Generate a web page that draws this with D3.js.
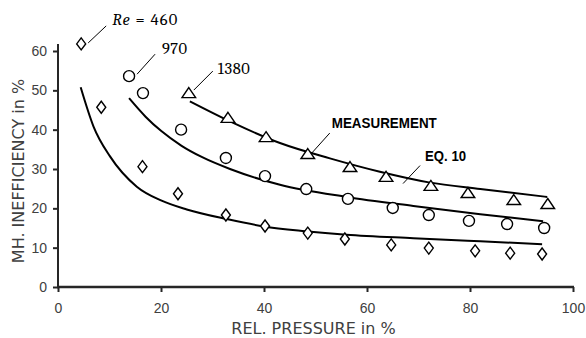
<!DOCTYPE html>
<html>
<head>
<meta charset="utf-8">
<script src="https://cdn.jsdelivr.net/npm/d3@7"></script>
<style>
  html, body { margin: 0; padding: 0; background: #fff; }
  svg { display: block; }
</style>
</head>
<body>
<div id="chart"></div>
<script>
const press460 = [4.5, 8.4, 16.4, 23.3, 32.6, 40.2, 48.5, 55.7, 64.7, 72, 81, 87.8, 94];
const meas460 = [61.8, 45.7, 30.6, 23.7, 18.3, 15.5, 13.7, 12.2, 10.7, 9.9, 9.2, 8.6, 8.4];
const press970 = [13.8, 16.5, 23.9, 32.6, 40.2, 48.2, 56.3, 65, 72, 79.8, 87.2, 94.4];
const meas970 = [53.6, 49.3, 40, 32.8, 28.2, 24.9, 22.4, 20.1, 18.3, 16.8, 16, 15];
const press1380 = [25.4, 33, 40.4, 48.5, 56.7, 63.7, 72.4, 79.6, 88.5, 95.1];
const meas1380 = [49.3, 43, 38.1, 33.8, 30.5, 28, 25.7, 23.9, 22.1, 21.1];

// eq. 10 curves
const eqX460 = [4.4, 6.9, 10.1, 15.3, 20, 25, 33, 40, 48, 56, 69, 82, 94];
const eqY460 = [50.8, 40.8, 33.2, 25.5, 22, 19.7, 17.2, 15.4, 14.2, 13.3, 12.4, 11.6, 10.9];
const eqX970 = [13.8, 17, 20, 24, 28, 33.4, 43.1, 56, 69, 82, 94.2];
const eqY970 = [48.0, 43.3, 39.7, 35.9, 33.0, 30.0, 26.0, 22.9, 20.6, 18.5, 16.7];
const eqX1380 = [25.6, 33.4, 43.1, 52.8, 62.5, 72, 82, 95];
const eqY1380 = [47.2, 42.1, 36.6, 32.7, 29.3, 26.6, 24.9, 22.9];

const xTicks = [0, 20, 40, 60, 80, 100];
const yTicks = [0, 10, 20, 30, 40, 50, 60];

const width = 586, height = 338;
const margin = { left: 58, right: 13, top: 51, bottom: 51 };

const svg = d3.select("#chart").append("svg")
    .attr("width", width)
    .attr("height", height);

const x = d3.scaleLinear().domain([0, 100]).range([margin.left, width - margin.right]);
const y = d3.scaleLinear().domain([0, 60]).range([height - margin.bottom, margin.top]);

const axisColor = "#262626";
const textColor = "#404040";

// y axis
const yAxis = svg.append("g")
    .attr("transform", `translate(${x(0)},0)`)
    .call(d3.axisLeft(y).tickValues(yTicks).tickSize(5).tickPadding(6));
yAxis.select(".domain").remove();
yAxis.selectAll("line").attr("stroke", axisColor).attr("stroke-width", 2);
yAxis.selectAll("text")
    .attr("fill", textColor)
    .style("font-family", "'Liberation Sans', Arial, sans-serif")
    .style("font-size", "14px");
svg.append("line")
    .attr("x1", x(0)).attr("x2", x(0))
    .attr("y1", y(0)).attr("y2", y(60) - 7)
    .attr("stroke", axisColor).attr("stroke-width", 2);

// x axis
const xAxis = svg.append("g")
    .attr("transform", `translate(0,${y(0)})`)
    .call(d3.axisBottom(x).tickValues(xTicks).tickSize(5).tickPadding(11));
xAxis.select(".domain").remove();
xAxis.selectAll("line").attr("stroke", axisColor).attr("stroke-width", 2);
xAxis.selectAll("text")
    .attr("fill", textColor)
    .style("font-family", "'Liberation Sans', Arial, sans-serif")
    .style("font-size", "14px");
svg.append("line")
    .attr("x1", x(0) - 1).attr("x2", x(100) + 1)
    .attr("y1", y(0)).attr("y2", y(0))
    .attr("stroke", axisColor).attr("stroke-width", 2.5);

// axis titles
svg.append("text")
    .attr("x", (x(0) + x(100)) / 2 - 2)
    .attr("y", 334)
    .attr("text-anchor", "middle")
    .attr("fill", textColor)
    .style("font-family", "'DejaVu Sans', Verdana, sans-serif")
    .style("font-size", "16px")
    .text("REL. PRESSURE in %");

svg.append("text")
    .attr("transform", "translate(24,171) rotate(-90)")
    .attr("text-anchor", "middle")
    .attr("fill", textColor)
    .style("font-family", "'DejaVu Sans', Verdana, sans-serif")
    .style("font-size", "16px")
    .text("MH. INEFFICIENCY in %");

// eq. 10 curves
const line = d3.line()
    .x(d => x(d[0]))
    .y(d => y(d[1]))
    .curve(d3.curveMonotoneX);

const curves = [
    d3.zip(eqX460, eqY460),
    d3.zip(eqX970, eqY970),
    d3.zip(eqX1380, eqY1380)
];

svg.append("g")
    .selectAll("path")
    .data(curves)
    .join("path")
    .attr("d", line)
    .attr("fill", "none")
    .attr("stroke", "#000")
    .attr("stroke-width", 2);

// markers
const diamond = "M0,-6L4.5,0L0,6L-4.5,0Z";
const triangle = "M0,-5.5L6.8,4.5L-6.8,4.5Z";

const markStyle = g => g
    .attr("fill", "#fff")
    .attr("stroke", "#000")
    .attr("stroke-width", 1.4);

svg.append("g")
    .call(markStyle)
    .selectAll("path")
    .data(d3.zip(press460, meas460))
    .join("path")
    .attr("d", diamond)
    .attr("transform", d => `translate(${x(d[0])},${y(d[1])})`);

svg.append("g")
    .call(markStyle)
    .selectAll("circle")
    .data(d3.zip(press970, meas970))
    .join("circle")
    .attr("cx", d => x(d[0]))
    .attr("cy", d => y(d[1]))
    .attr("r", 5.5);

svg.append("g")
    .call(markStyle)
    .selectAll("path")
    .data(d3.zip(press1380, meas1380))
    .join("path")
    .attr("d", triangle)
    .attr("transform", d => `translate(${x(d[0])},${y(d[1])})`);

// leader lines + labels (offsets in px from an anchor in data units)
const leaders = [
    { ax: press460[0], ay: meas460[0], x1: 7, y1: -1, x2: 25, y2: -18 },
    { ax: press970[0], ay: meas970[0], x1: 8, y1: -2, x2: 26, y2: -22 },
    { ax: press1380[0], ay: meas1380[0], x1: 5, y1: -3, x2: 24, y2: -22 },
    { ax: press1380[3], ay: meas1380[3], x1: 4, y1: -1, x2: 22, y2: -21 },
    { ax: 67, ay: 26.3, x1: 0, y1: 0, x2: 17, y2: -18 }
];

svg.append("g")
    .attr("stroke", "#000")
    .attr("stroke-width", 1)
    .selectAll("line")
    .data(leaders)
    .join("line")
    .attr("x1", d => x(d.ax) + d.x1)
    .attr("y1", d => y(d.ay) + d.y1)
    .attr("x2", d => x(d.ax) + d.x2)
    .attr("y2", d => y(d.ay) + d.y2);

const serif = "Cambria, 'Liberation Serif', 'DejaVu Serif', serif";

const reLabel = svg.append("text")
    .attr("x", x(press460[0]) + 31)
    .attr("y", y(meas460[0]) - 19)
    .attr("fill", "#000")
    .attr("textLength", 65)
    .style("font-family", serif)
    .style("font-size", "16.5px");
reLabel.append("tspan").style("font-style", "italic").text("Re");
reLabel.append("tspan").text(" = 460");

svg.append("text")
    .attr("x", x(press970[0]) + 33)
    .attr("y", y(meas970[0]) - 22)
    .attr("fill", "#000")
    .attr("textLength", 25)
    .style("font-family", serif)
    .style("font-size", "16.5px")
    .text("970");

svg.append("text")
    .attr("x", x(press1380[0]) + 29)
    .attr("y", y(meas1380[0]) - 19)
    .attr("fill", "#000")
    .attr("textLength", 32)
    .style("font-family", serif)
    .style("font-size", "16.5px")
    .text("1380");

svg.append("text")
    .attr("x", x(press1380[3]) + 24)
    .attr("y", y(meas1380[3]) - 26)
    .attr("fill", "#000")
    .attr("textLength", 105)
    .attr("lengthAdjust", "spacingAndGlyphs")
    .style("font-family", "'Liberation Sans', Arial, sans-serif")
    .style("font-weight", "bold")
    .style("font-size", "14px")
    .text("MEASUREMENT");

svg.append("text")
    .attr("x", x(67) + 22)
    .attr("y", y(26.3) - 23)
    .attr("fill", "#000")
    .attr("textLength", 41)
    .attr("lengthAdjust", "spacingAndGlyphs")
    .style("font-family", "'Liberation Sans', Arial, sans-serif")
    .style("font-weight", "bold")
    .style("font-size", "14px")
    .text("EQ. 10");
</script>
</body>
</html>
